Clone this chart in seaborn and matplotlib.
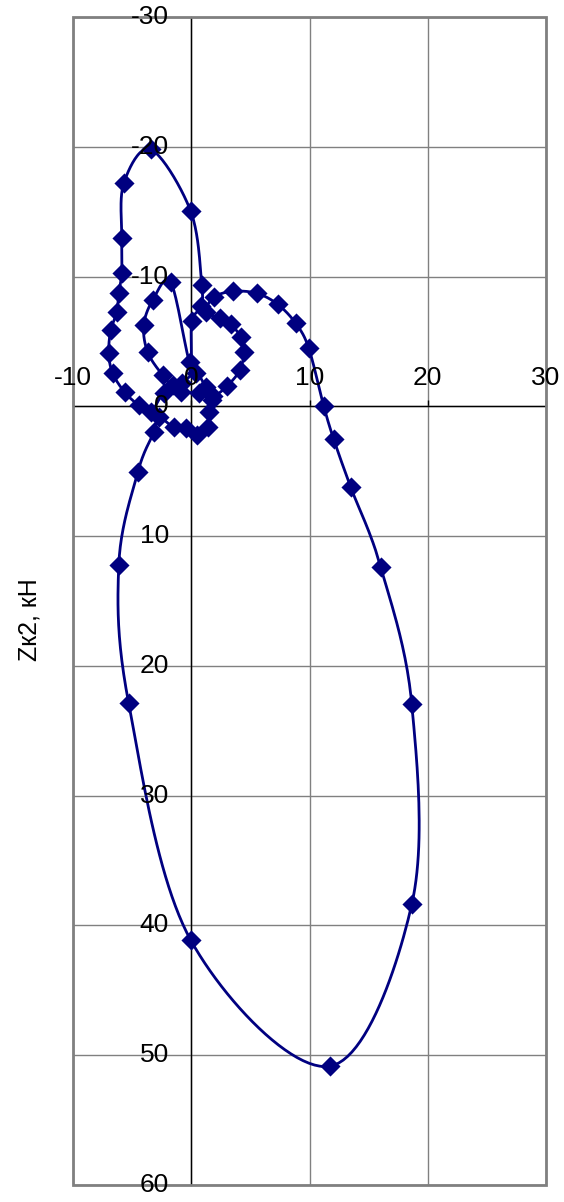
import numpy as np
import matplotlib
matplotlib.use("Agg")
import matplotlib.pyplot as plt
from matplotlib.patches import Rectangle
import pandas as pd
import seaborn as sns

# Polar load diagram of the crank journal: horizontal and vertical force components, kN
force_x = [-2.33, -3.42, -4.44, -5.62, -6.64, -6.98, -6.81, -6.30, -6.13, -5.88,
           -5.88, -5.71, -3.42, -0.04, 0.89, 0.80, 0.04, -0.13, -1.73, -3.26,
           -4.02, -3.68, -2.41, -1.56, -0.80, 0.38, 1.23, 1.73, 1.48, 1.40,
           0.47, -0.47, -1.48, -2.75, -3.17, -4.52, -6.13, -5.29, -0.04, 11.71,
           18.65, 18.65, 16.03, 13.49, 12.05, 11.21, 9.94, 8.84, 7.31, 5.54,
           3.51, 1.90, 1.23, 2.41, 3.34, 4.19, 4.44, 4.10, 3.00, 1.82,
           0.63, -0.89]
force_z = [-1.00, 0.46, -0.08, -1.08, -2.54, -4.08, -5.86, -7.24, -8.71, -10.25,
           -12.94, -17.18, -19.80, -15.02, -9.32, -7.70, -6.55, -3.39, -9.55, -8.17,
           -6.24, -4.16, -2.39, -1.62, -1.77, -2.54, -1.46, -0.46, 0.46, 1.62,
           2.23, 1.69, 1.62, 0.85, 2.00, 5.08, 12.25, 22.88, 41.14, 50.85,
           38.37, 22.96, 12.40, 6.24, 2.54, 0.00, -4.47, -6.39, -7.86, -8.71,
           -8.86, -8.40, -7.24, -6.78, -6.32, -5.32, -4.16, -2.77, -1.54, -0.77,
           -1.00, -1.08]

x_ticks = [-10, 0, 10, 20, 30]
z_ticks = [-30, -20, -10, 0, 10, 20, 30, 40, 50, 60]
y_title = "Zк2, кН"

NAVY = "#000080"
GRID = "#808080"


def smooth_closed(xs, ys, steps=24):
    """Catmull-Rom curve through the points of a closed path."""
    p = np.column_stack([xs, ys])
    n = len(p)
    t = np.linspace(0, 1, steps, endpoint=False)[:, None]
    out = []
    for i in range(n):
        p0, p1, p2, p3 = p[i - 1], p[i], p[(i + 1) % n], p[(i + 2) % n]
        seg = 0.5 * ((2 * p1) + (-p0 + p2) * t
                     + (2 * p0 - 5 * p1 + 4 * p2 - p3) * t ** 2
                     + (-p0 + 3 * p1 - 3 * p2 + p3) * t ** 3)
        out.append(seg)
    out.append(p[:1])
    c = np.vstack(out)
    return c[:, 0], c[:, 1]


sns.set_style("white")
plt.rcParams["font.family"] = ["Liberation Sans", "DejaVu Sans"]
plt.rcParams["axes.unicode_minus"] = False
plt.rcParams["text.color"] = "black"

fig = plt.figure(figsize=(5.64, 12.02), dpi=100)
ax = fig.add_axes([73 / 564, 17 / 1202, 473 / 564, 1168 / 1202])

df = pd.DataFrame({"x": force_x, "z": force_z})
cx, cz = smooth_closed(df["x"].to_numpy(), df["z"].to_numpy())
curve = pd.DataFrame({"x": cx, "z": cz})

sns.lineplot(data=curve, x="x", y="z", sort=False, estimator=None,
             color=NAVY, linewidth=2.0, ax=ax, zorder=3)
sns.scatterplot(data=df, x="x", y="z", marker="D", s=105, color=NAVY,
                edgecolor=NAVY, linewidth=0, ax=ax, zorder=4)

ax.set_xlim(-10, 30)
ax.set_ylim(60, -30)
ax.set_xticks(x_ticks)
ax.set_yticks(z_ticks)
ax.grid(True, color=GRID, linewidth=1.0)
ax.set_axisbelow(True)

# axes crossing at the origin
for side in ("right", "bottom"):
    ax.spines[side].set_visible(False)
ax.spines["left"].set_position(("data", 0))
ax.spines["top"].set_position(("data", 0))
for side in ("left", "top"):
    ax.spines[side].set_color("black")
    ax.spines[side].set_linewidth(1.0)

ax.xaxis.set_ticks_position("top")
ax.tick_params(axis="x", direction="out", length=4.5, width=1, colors="black",
               labeltop=False, labelbottom=False)
ax.tick_params(axis="y", direction="out", length=4.5, width=1, colors="black",
               labelleft=False)
ax.set_xlabel("")
ax.set_ylabel("")

# tick labels written above the data curve
for v in x_ticks:
    ax.annotate(str(v), (v, 0), xytext=(0, 15), textcoords="offset points",
                ha="center", va="baseline", fontsize=19, zorder=6,
                color="black", annotation_clip=False)
for v in z_ticks:
    ax.annotate(str(v), (0, v), xytext=(-16, 0), textcoords="offset points",
                ha="right", va="center", fontsize=19, zorder=6,
                color="black", annotation_clip=False)

ax.add_patch(Rectangle((0, 0), 1, 1, transform=ax.transAxes, fill=False,
                       edgecolor=GRID, linewidth=2.0, zorder=5, clip_on=False))

fig.text(30 / 564, 1 - 620 / 1202, y_title, rotation=90, ha="center",
         va="center", fontsize=18, color="black")

fig.savefig("out.png", dpi=100)
